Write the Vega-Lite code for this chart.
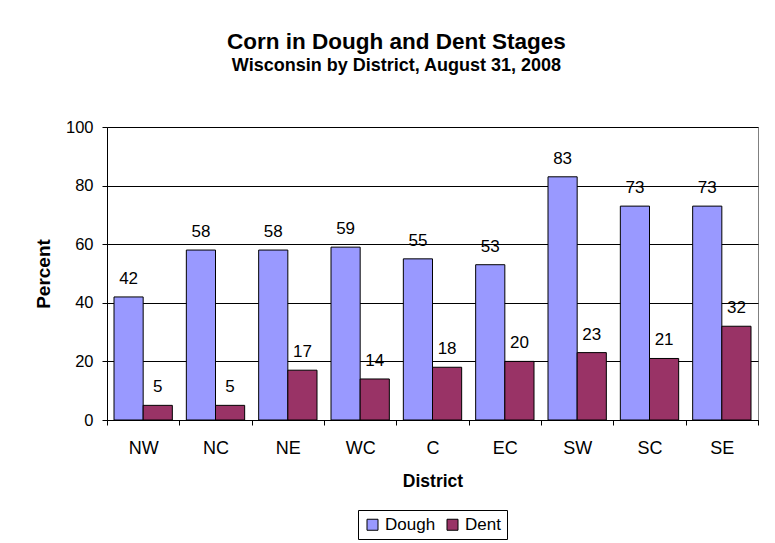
{
  "$schema": "https://vega.github.io/schema/vega-lite/v6.json",
  "width": 651,
  "height": 293,
  "autosize": {"type": "none"},
  "padding": {"left": 107, "top": 127, "right": 17, "bottom": 123},
  "background": "white",
  "title": {
    "text": "Corn in Dough and Dent Stages",
    "subtitle": "Wisconsin by District, August 31, 2008",
    "anchor": "middle",
    "frame": "bounds",
    "font": "Liberation Sans",
    "subtitleFont": "Liberation Sans",
    "fontSize": 22.5,
    "subtitleFontSize": 18,
    "fontWeight": "bold",
    "subtitleFontWeight": "bold",
    "color": "#000000",
    "subtitleColor": "#000000",
    "subtitlePadding": 4,
    "offset": 44
  },
  "data": {
    "values": [
      {"District": "NW", "Stage": "Dough", "Percent": 42},
      {"District": "NW", "Stage": "Dent", "Percent": 5},
      {"District": "NC", "Stage": "Dough", "Percent": 58},
      {"District": "NC", "Stage": "Dent", "Percent": 5},
      {"District": "NE", "Stage": "Dough", "Percent": 58},
      {"District": "NE", "Stage": "Dent", "Percent": 17},
      {"District": "WC", "Stage": "Dough", "Percent": 59},
      {"District": "WC", "Stage": "Dent", "Percent": 14},
      {"District": "C", "Stage": "Dough", "Percent": 55},
      {"District": "C", "Stage": "Dent", "Percent": 18},
      {"District": "EC", "Stage": "Dough", "Percent": 53},
      {"District": "EC", "Stage": "Dent", "Percent": 20},
      {"District": "SW", "Stage": "Dough", "Percent": 83},
      {"District": "SW", "Stage": "Dent", "Percent": 23},
      {"District": "SC", "Stage": "Dough", "Percent": 73},
      {"District": "SC", "Stage": "Dent", "Percent": 21},
      {"District": "SE", "Stage": "Dough", "Percent": 73},
      {"District": "SE", "Stage": "Dent", "Percent": 32}
    ]
  },
  "encoding": {
    "x": {
      "field": "District",
      "type": "nominal",
      "sort": ["NW", "NC", "NE", "WC", "C", "EC", "SW", "SC", "SE"],
      "scale": {"paddingInner": 0, "paddingOuter": 0},
      "axis": {
        "title": "District",
        "labelAngle": 0,
        "tickBand": "extent",
        "tickSize": 5,
        "tickColor": "#000000",
        "domainColor": "#000000",
        "labelFont": "Liberation Sans",
        "labelFontSize": 18,
        "labelColor": "#000000",
        "labelPadding": 14,
        "titleFont": "Liberation Sans",
        "titleFontSize": 17.5,
        "titleFontWeight": "bold",
        "titleColor": "#000000",
        "titlePadding": 15,
        "grid": false
      }
    },
    "xOffset": {
      "field": "Stage",
      "type": "nominal",
      "sort": ["Dough", "Dent"],
      "scale": {"paddingInner": 0, "paddingOuter": 0.24}
    },
    "y": {
      "field": "Percent",
      "type": "quantitative",
      "scale": {"domain": [0, 100], "nice": false},
      "axis": {
        "title": "Percent",
        "values": [0, 20, 40, 60, 80, 100],
        "grid": true,
        "gridColor": "#000000",
        "gridWidth": 1,
        "tickSize": 5,
        "tickColor": "#000000",
        "domainColor": "#000000",
        "labelFont": "Liberation Sans",
        "labelFontSize": 16.5,
        "labelColor": "#000000",
        "labelPadding": 9,
        "titleFont": "Liberation Sans",
        "titleFontSize": 19,
        "titleFontWeight": "bold",
        "titleColor": "#000000",
        "titlePadding": 12
      }
    }
  },
  "layer": [
    {
      "mark": {"type": "bar", "stroke": "#000000", "strokeWidth": 1},
      "encoding": {
        "color": {
          "field": "Stage",
          "type": "nominal",
          "scale": {"domain": ["Dough", "Dent"], "range": ["#9999FF", "#993366"]},
          "legend": {
            "title": null,
            "orient": "bottom",
            "direction": "horizontal",
            "symbolType": "square",
            "symbolSize": 121,
            "symbolStrokeColor": "#000000",
            "symbolStrokeWidth": 1,
            "symbolOpacity": 1,
            "labelFont": "Liberation Sans",
            "labelFontSize": 17,
            "labelColor": "#000000",
            "strokeColor": "#000000",
            "padding": 6,
            "columnPadding": 8,
            "offset": 20
          }
        }
      }
    },
    {
      "mark": {"type": "text", "baseline": "alphabetic", "dy": -13, "font": "Liberation Sans", "fontSize": 17, "color": "#000000"},
      "encoding": {"text": {"field": "Percent", "type": "quantitative"}}
    }
  ],
  "config": {
    "view": {"stroke": "#808080"},
    "legend": {"layout": {"bottom": {"anchor": "middle"}}}
  }
}
